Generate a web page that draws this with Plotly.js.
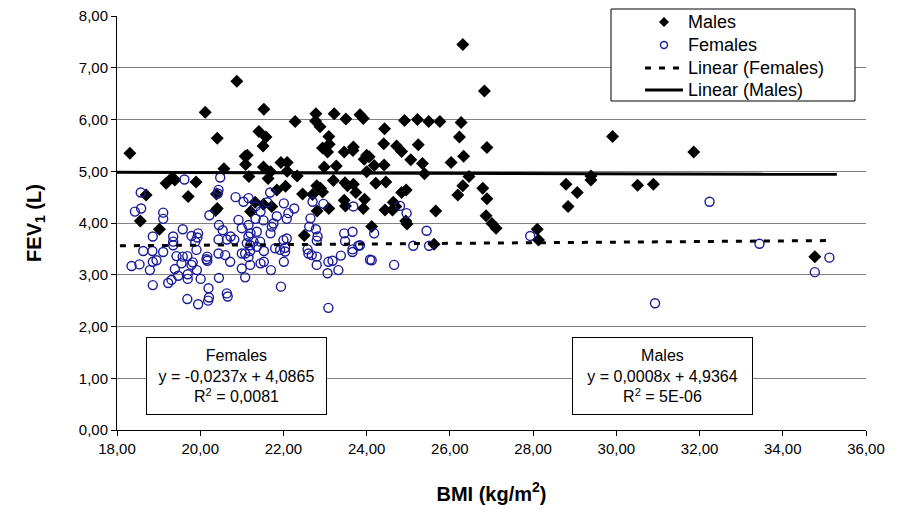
<!DOCTYPE html>
<html>
<head>
<meta charset="utf-8">
<script src="https://cdn.plot.ly/plotly-3.0.1.min.js"></script>
<style>html,body{margin:0;padding:0;background:#fff;}#chart{width:901px;height:516px;}</style>
</head>
<body>
<div id="chart"></div>
<script>
// Males: BMI (kg/m2) and FEV1 (L)
const maleBMI = [18.31,20.88,20.12,21.53,20.41,21.41,21.58,21.51,22.28,22.78,22.77,22.88,23.22,23.50,23.84,23.92,23.09,23.10,22.94,23.06,23.46,23.68,23.67,24.00,23.94,21.08,21.13,21.09,21.52,20.57,21.94,22.09,22.09,21.69,22.33,22.98,23.27,24.00,21.17,21.63,19.33,19.39,19.18,19.90,18.70,19.71,20.39,22.05,21.84,22.46,22.80,22.89,22.70,22.94,23.20,23.48,23.54,23.68,23.74,23.95,23.46,23.49,23.92,23.09,22.81,21.72,21.32,21.52,21.21,20.41,20.37,18.56,19.02,22.50,26.31,26.83,24.91,25.22,25.49,25.76,26.27,24.43,26.23,24.41,24.72,24.84,25.24,26.89,26.33,24.06,24.18,24.42,25.06,25.34,26.03,25.39,26.46,24.22,24.46,26.31,26.19,26.79,26.89,24.84,24.95,24.44,24.64,24.62,24.70,25.66,26.87,27.01,27.11,24.12,24.94,24.97,25.62,28.10,28.13,29.91,31.86,29.39,29.39,28.79,29.06,28.84,30.51,30.89,34.77];
const maleFEV1 = [5.35,6.74,6.14,6.20,5.64,5.77,5.66,5.49,5.96,6.11,5.97,5.86,6.11,6.01,6.09,6.02,5.67,5.52,5.45,5.37,5.37,5.47,5.40,5.31,5.23,5.29,5.31,5.13,5.08,5.05,5.17,5.17,5.00,4.99,4.91,5.08,5.10,4.99,4.90,4.86,4.88,4.83,4.77,4.79,4.54,4.51,4.56,4.71,4.64,4.56,4.72,4.67,4.55,4.60,4.82,4.78,4.72,4.75,4.59,4.46,4.44,4.33,4.28,4.28,4.23,4.32,4.40,4.36,4.22,4.28,4.24,4.04,3.88,3.76,7.45,6.55,5.98,6.00,5.96,5.96,5.94,5.82,5.66,5.53,5.49,5.38,5.51,5.46,5.29,5.28,5.11,5.12,5.22,5.15,5.17,4.95,4.90,4.77,4.79,4.72,4.54,4.67,4.47,4.59,4.64,4.25,4.40,4.25,4.32,4.23,4.14,3.99,3.90,3.93,4.04,3.98,3.59,3.88,3.67,5.67,5.37,4.91,4.83,4.75,4.59,4.32,4.73,4.75,3.35];

// Females: BMI (kg/m2) and FEV1 (L)
const femaleBMI = [18.43,18.58,18.57,19.11,19.11,19.62,20.48,20.44,20.42,20.85,21.04,21.16,20.22,20.92,21.33,21.45,21.33,21.52,21.61,21.68,22.01,21.84,21.76,21.72,22.12,22.08,22.26,22.70,22.96,23.68,22.65,22.62,22.78,22.80,23.46,23.66,23.48,23.80,23.66,23.66,23.38,23.32,23.06,23.08,23.18,23.08,22.80,22.68,22.80,22.60,22.04,22.04,21.92,21.80,21.69,22.01,21.70,21.94,21.53,21.36,21.44,21.28,21.21,21.16,21.36,21.20,21.12,21.08,21.16,21.20,21.45,21.08,21.00,20.72,20.60,20.44,20.45,20.44,20.64,20.82,20.73,20.54,20.45,20.17,20.17,20.20,20.21,20.19,19.95,19.69,20.64,20.66,20.01,19.70,19.70,19.47,19.31,19.23,19.39,19.55,19.79,19.69,19.82,19.92,18.86,18.79,18.86,18.95,18.85,18.63,18.35,18.54,18.86,19.11,19.35,19.35,19.35,19.58,19.79,19.88,19.95,19.93,19.43,19.58,19.91,20.15,21.00,21.53,24.08,21.16,24.80,24.96,24.18,25.44,25.12,25.50,24.12,24.66,27.93,23.84,32.24,33.44,35.12,34.77,30.93,21.00,22.08,22.00,22.58,22.82,21.20];
const femaleFEV1 = [4.22,4.28,4.59,4.20,4.08,4.84,4.88,4.64,4.57,4.50,4.41,4.48,4.15,4.06,4.32,4.22,4.08,4.05,4.40,4.59,4.38,4.13,3.99,3.93,4.19,4.08,4.28,4.41,4.37,4.32,4.09,3.93,3.88,3.66,3.80,3.83,3.65,3.56,3.49,3.44,3.37,3.09,3.03,3.25,3.27,2.36,3.19,3.38,3.35,3.41,3.52,3.45,3.48,3.51,3.80,3.25,3.09,2.77,3.46,3.54,3.64,3.64,3.80,3.74,3.83,3.46,3.61,3.41,3.34,3.19,3.22,2.95,3.12,3.25,3.38,3.41,2.94,3.68,3.68,3.68,3.74,3.86,3.96,3.35,3.27,2.74,2.56,2.50,2.43,2.53,2.64,2.58,2.92,2.92,3.01,2.98,2.90,2.84,3.11,3.22,3.19,3.36,3.24,3.09,2.80,3.09,3.25,3.28,3.46,3.46,3.17,3.20,3.74,3.44,3.74,3.64,3.57,3.88,3.75,3.64,3.80,3.72,3.36,3.35,3.48,3.30,3.41,3.25,3.29,3.96,4.33,4.19,3.80,3.85,3.56,3.56,3.28,3.19,3.75,3.57,4.41,3.60,3.33,3.05,2.45,3.90,3.70,3.67,3.49,3.74,3.57];

// Linear trend lines as drawn (end points)
const femaleTrendX = [18.07, 35.05];
const femaleTrendY = [3.56, 3.66];
const maleTrendX = [18.0, 35.3];
const maleTrendY = [4.98, 4.94];

const xTicks = [18,20,22,24,26,28,30,32,34,36];
const yTicks = [0,1,2,3,4,5,6,7,8];

// Legend entries (drawn as a boxed key)
const legendLabels = ['Males', 'Females', 'Linear (Females)', 'Linear (Males)'];

const FONT = '"Liberation Sans", Arial, sans-serif';
const MALE_COLOR = '#000000';
const FEMALE_COLOR = '#1a1a99';

const traces = [
  {x: maleBMI, y: maleFEV1, name: legendLabels[0], type: 'scatter', mode: 'markers',
   marker: {symbol: 'diamond', size: 10, color: MALE_COLOR, line: {width: 0}}},
  {x: femaleBMI, y: femaleFEV1, name: legendLabels[1], type: 'scatter', mode: 'markers',
   marker: {symbol: 'circle-open', size: 9, color: FEMALE_COLOR, line: {width: 1.4, color: FEMALE_COLOR}}},
  {x: femaleTrendX, y: femaleTrendY, name: legendLabels[2], type: 'scatter', mode: 'lines',
   line: {color: '#000000', width: 3, dash: '6px,8px'}},
  {x: maleTrendX, y: maleTrendY, name: legendLabels[3], type: 'scatter', mode: 'lines',
   line: {color: '#000000', width: 3}}
];

// plot-area geometry (for placing the key in paper coordinates)
const M = {l: 117, r: 35, t: 16, b: 86};
const PW = 901 - M.l - M.r, PH = 516 - M.t - M.b;
const px = v => (v - M.l) / PW;
const py = v => (516 - M.b - v) / PH;

const keyRows = [22, 45, 68, 90];
const shapes = [
  {type: 'rect', xref: 'paper', yref: 'paper', x0: px(611), x1: px(855), y0: py(101), y1: py(9),
   fillcolor: '#ffffff', line: {color: '#000000', width: 1}, layer: 'above'},
  {type: 'path', xref: 'paper', yref: 'paper', xsizemode: 'pixel', ysizemode: 'pixel',
   xanchor: px(664), yanchor: py(keyRows[0]), path: 'M 0 5 L 5 0 L 0 -5 L -5 0 Z',
   fillcolor: MALE_COLOR, line: {width: 0}, layer: 'above'},
  {type: 'circle', xref: 'paper', yref: 'paper', xsizemode: 'pixel', ysizemode: 'pixel',
   xanchor: px(664), yanchor: py(keyRows[1]), x0: -3.5, x1: 3.5, y0: -3.5, y1: 3.5,
   fillcolor: 'rgba(0,0,0,0)', line: {color: FEMALE_COLOR, width: 1.4}, layer: 'above'},
  {type: 'line', xref: 'paper', yref: 'paper', x0: px(645), x1: px(683), y0: py(keyRows[2]), y1: py(keyRows[2]),
   line: {color: '#000000', width: 3, dash: '6px,8px'}, layer: 'above'},
  {type: 'line', xref: 'paper', yref: 'paper', x0: px(645), x1: px(683), y0: py(keyRows[3]), y1: py(keyRows[3]),
   line: {color: '#000000', width: 3}, layer: 'above'}
];

const annotations = legendLabels.map((t, i) => ({
  x: px(686), y: py(keyRows[i]), xref: 'paper', yref: 'paper', xanchor: 'left', yanchor: 'middle',
  showarrow: false, text: t, font: {family: FONT, size: 18, color: '#000000'}
}));

annotations.push(
  {x: 20.86, y: 1.04, xref: 'x', yref: 'y', showarrow: false,
   text: 'Females<br>y = -0,0237x + 4,0865<br>R<sup>2</sup> = 0,0081',
   font: {family: FONT, size: 16}, align: 'center', width: 175, height: 72,
   bgcolor: '#ffffff', bordercolor: '#000000', borderwidth: 1, borderpad: 2},
  {x: 31.11, y: 1.04, xref: 'x', yref: 'y', showarrow: false,
   text: 'Males<br>y = 0,0008x + 4,9364<br>R<sup>2</sup> = 5E-06',
   font: {family: FONT, size: 16}, align: 'center', width: 175, height: 72,
   bgcolor: '#ffffff', bordercolor: '#000000', borderwidth: 1, borderpad: 2}
);

const layout = {
  width: 901, height: 516,
  margin: M,
  paper_bgcolor: '#ffffff', plot_bgcolor: '#ffffff',
  separators: ',.',
  font: {family: FONT, size: 15, color: '#000000'},
  showlegend: false,
  xaxis: {range: [18, 36], tickvals: xTicks, tickformat: '.2f',
    showgrid: false, zeroline: false, showline: true, linecolor: '#000000', linewidth: 1,
    ticks: 'outside', ticklen: 5, tickcolor: '#000000',
    tickfont: {family: FONT, size: 15},
    title: {text: 'BMI (kg/m<sup>2</sup>)', font: {family: FONT, size: 20, weight: 'bold'}, standoff: 30}},
  yaxis: {range: [0, 8], tickvals: yTicks, tickformat: '.2f',
    showgrid: true, gridcolor: '#808080', gridwidth: 1, zeroline: false,
    showline: true, linecolor: '#000000', linewidth: 1,
    ticks: 'outside', ticklen: 5, tickcolor: '#000000',
    tickfont: {family: FONT, size: 15},
    title: {text: 'FEV<sub>1</sub> (L)', font: {family: FONT, size: 20, weight: 'bold'}, standoff: 31}},
  shapes: shapes,
  annotations: annotations
};

Plotly.newPlot('chart', traces, layout, {displayModeBar: false, staticPlot: true});
</script>
</body>
</html>
